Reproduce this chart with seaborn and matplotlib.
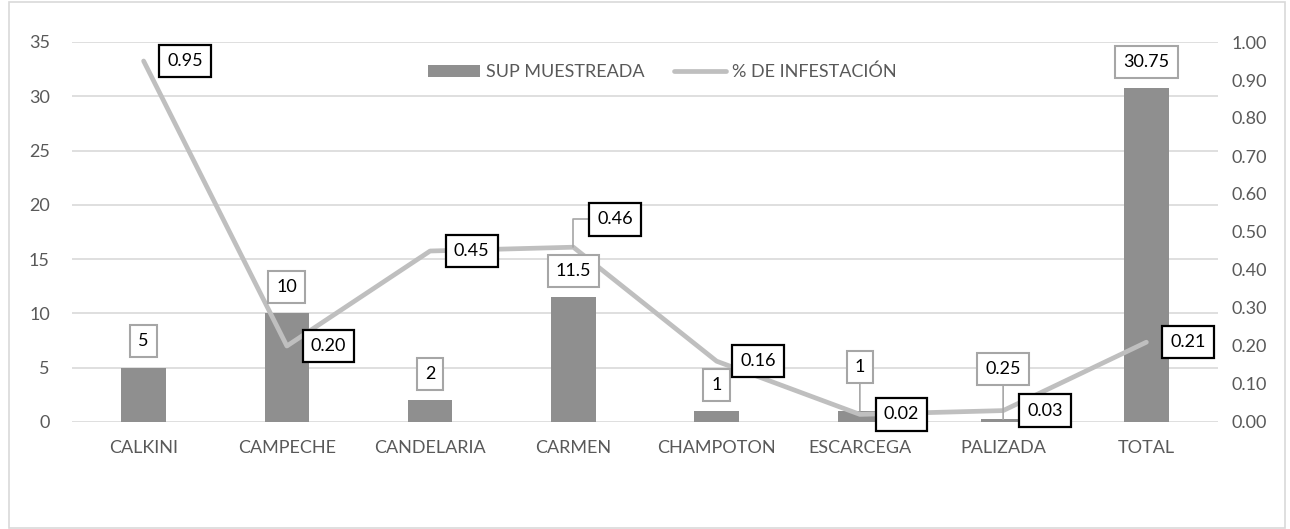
from matplotlib import pyplot as plt
from matplotlib.patches import Rectangle
import numpy as np
import pandas as pd
import seaborn as sns

categorias = ["CALKINI", "CAMPECHE", "CANDELARIA", "CARMEN",
              "CHAMPOTON", "ESCARCEGA", "PALIZADA", "TOTAL"]
sup_muestreada = [5, 10, 2, 11.5, 1, 1, 0.25, 30.75]
infestacion = [0.95, 0.20, 0.45, 0.46, 0.16, 0.02, 0.03, 0.21]
left_ticks = [0, 5, 10, 15, 20, 25, 30, 35]
right_ticks = [0.0, 0.1, 0.2, 0.3, 0.4, 0.5, 0.6, 0.7, 0.8, 0.9, 1.0]

BAR = "#8f8f8f"
LINE = "#bfbfbf"
TXT = "#595959"
GRID = "#d9d9d9"

sns.set_theme(style="white")
plt.rcParams["font.family"] = ["Lato", "DejaVu Sans"]

df = pd.DataFrame({"municipio": categorias,
                   "sup": sup_muestreada,
                   "pct": infestacion})
df["x"] = np.arange(len(df))

fig = plt.figure(figsize=(12.9, 5.29), dpi=100)
ax = fig.add_axes([72 / 1290, 1 - 422 / 529, (1218 - 72) / 1290, (422 - 42) / 529])

sns.barplot(data=df, x="municipio", y="sup", color=BAR, width=0.31,
            saturation=1, ax=ax, label="SUP MUESTREADA", zorder=2,
            edgecolor=BAR, linewidth=0)
ax.set_xlim(-0.5, len(df) - 0.5)
ax.set_ylim(0, 35)
ax.set_yticks(left_ticks)
ax.yaxis.grid(True, color=GRID, lw=1.2)
ax.set_axisbelow(True)
ax.set_xlabel("")
ax.set_ylabel("")
for s in ax.spines.values():
    s.set_visible(False)
ax.tick_params(axis="x", length=0, pad=13, labelsize=13, labelcolor=TXT)
ax.tick_params(axis="y", length=0, pad=16, labelsize=13, labelcolor=TXT)

ax2 = ax.twinx()
sns.lineplot(data=df, x="x", y="pct", color=LINE, lw=3.4, sort=False,
             ax=ax2, label="% DE INFESTACIÓN", solid_joinstyle="round",
             solid_capstyle="round")
ax2.set_ylim(0, 1.0)
ax2.set_yticks(right_ticks)
ax2.set_yticklabels([f"{t:.2f}" for t in right_ticks])
ax2.set_ylabel("")
ax2.grid(False)
for s in ax2.spines.values():
    s.set_visible(False)
ax2.tick_params(axis="y", length=0, pad=10, labelsize=13, labelcolor=TXT)

# etiquetas de las barras (cuadro gris)
bar_off = {5: 32, 6: 36}
for i, v in enumerate(sup_muestreada):
    dy = bar_off.get(i, 19)
    kw = {}
    if i in bar_off:
        kw["arrowprops"] = dict(arrowstyle="-", color="#a6a6a6", lw=1.2,
                                shrinkA=0, shrinkB=0)
    ax2.annotate(f"{v:g}", xy=(df["x"][i], v), xycoords=ax.transData,
                 xytext=(0, dy), textcoords="offset points",
                 ha="center", va="center", fontsize=13, color="black",
                 bbox=dict(boxstyle="square,pad=0.45", fc="white",
                           ec="#a6a6a6", lw=1.5), zorder=5, **kw)

# etiquetas de la linea (cuadro negro)
for i, v in enumerate(infestacion):
    kw = {}
    dy = 0
    if i == 3:
        dy = 20
        kw["arrowprops"] = dict(arrowstyle="-", color="#a6a6a6", lw=1.2,
                                shrinkA=0, shrinkB=0,
                                connectionstyle="angle,angleA=0,angleB=90,rad=0")
    ax2.annotate(f"{v:.2f}", xy=(df["x"][i], v), xytext=(30, dy),
                 textcoords="offset points", ha="center", va="center",
                 fontsize=13, color="black",
                 bbox=dict(boxstyle="square,pad=0.45", fc="white",
                           ec="black", lw=1.6), zorder=6, **kw)

h1, l1 = ax.get_legend_handles_labels()
h2, l2 = ax2.get_legend_handles_labels()
if ax.get_legend() is not None:
    ax.get_legend().remove()
ax2.legend(h1 + h2, l1 + l2, loc="center", bbox_to_anchor=(0.515, 0.921),
           ncol=2, frameon=False, fontsize=13, labelcolor=TXT,
           handlelength=2.9, handletextpad=0.35, columnspacing=1.6)

fig.add_artist(Rectangle((9 / 1290, 1 / 529), (1285 - 9) / 1290, (527 - 1) / 529,
                         transform=fig.transFigure, fill=False,
                         edgecolor=GRID, lw=1.2))

fig.savefig("out.png", dpi=100)
